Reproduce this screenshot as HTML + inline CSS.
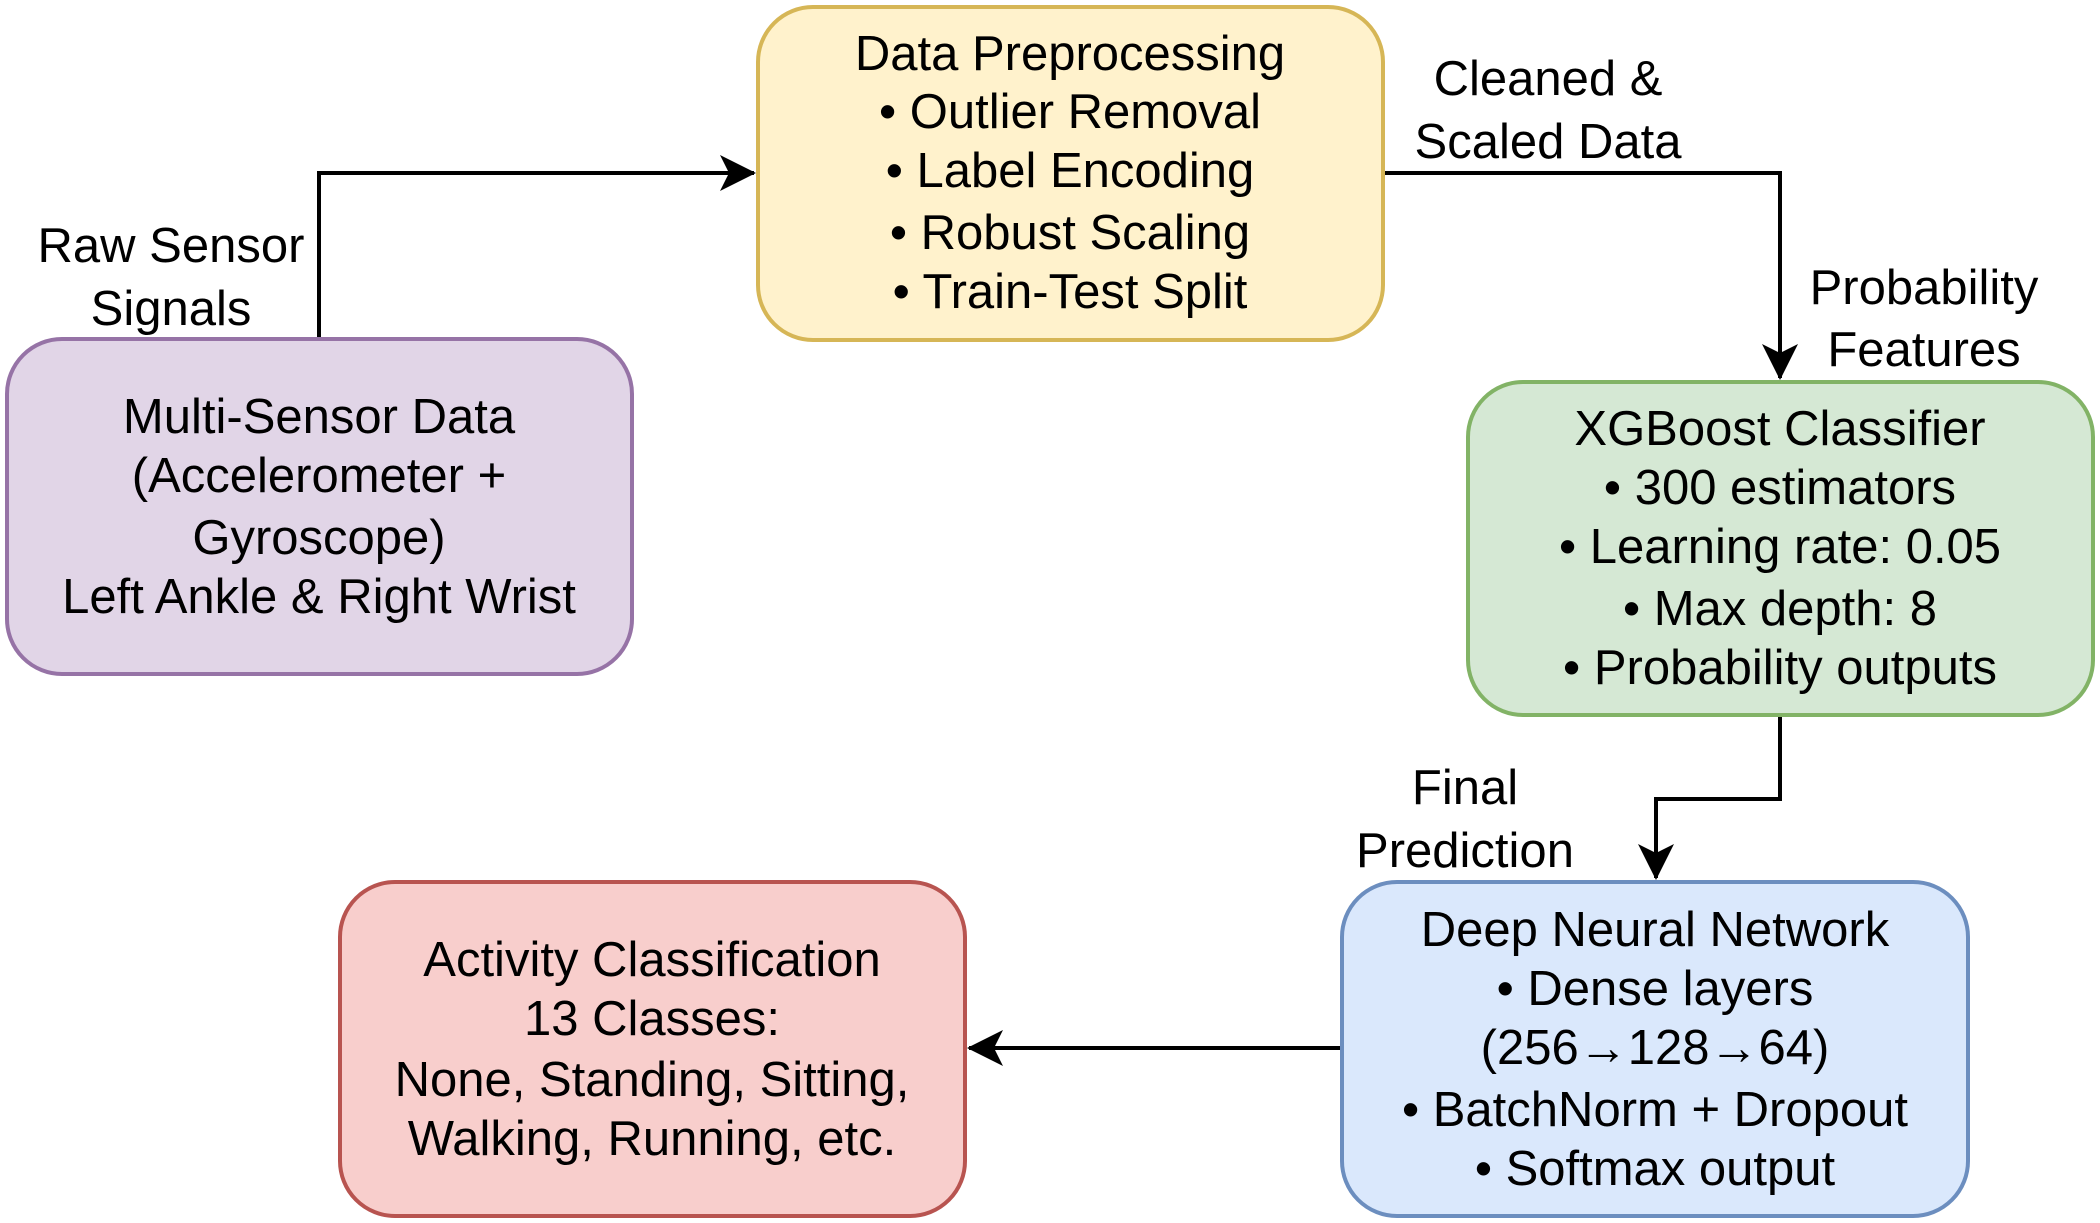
<!DOCTYPE html>
<html><head><meta charset="utf-8"><style>html,body{margin:0;padding:0;background:#fff}svg{display:block}</style></head>
<body>
<svg width="2100" height="1223" viewBox="0 0 2100 1223" xmlns="http://www.w3.org/2000/svg" font-family="Liberation Sans, Arial, sans-serif" font-size="49" fill="#000">
<defs>
<marker id="b" markerWidth="36" markerHeight="36" refX="34" refY="18" orient="auto" markerUnits="userSpaceOnUse"><path d="M0,0 L36,18 L0,36 L9,18 Z" fill="#000"/></marker></defs>
<g stroke="#000" stroke-width="4" fill="none">
<path d="M319,339 V173 H754" marker-end="url(#b)"/>
<path d="M1383,173 H1780 V378" marker-end="url(#b)"/>
<path d="M1780,715 V799 H1656 V878" marker-end="url(#b)"/>
<path d="M1342,1048 H969" marker-end="url(#b)"/>
</g>
<g stroke-width="4">
<rect x="7" y="339" width="625" height="335" rx="55" fill="#e1d5e7" stroke="#9673a6"/>
<rect x="758" y="7" width="625" height="333" rx="55" fill="#fff2cc" stroke="#d6b656"/>
<rect x="1468" y="382" width="625" height="333" rx="55" fill="#d5e8d4" stroke="#82b366"/>
<rect x="1342" y="882" width="626" height="334" rx="55" fill="#dae8fc" stroke="#6c8ebf"/>
<rect x="340" y="882" width="625" height="334" rx="55" fill="#f8cecc" stroke="#b85450"/>
</g>
<g text-anchor="middle">
<text x="1070" y="70">Data Preprocessing</text>
<text x="1070" y="128">• Outlier Removal</text>
<text x="1070" y="187">• Label Encoding</text>
<text x="1070" y="249">• Robust Scaling</text>
<text x="1070" y="308">• Train-Test Split</text>
<text x="319" y="433">Multi-Sensor Data</text>
<text x="319" y="492">(Accelerometer +</text>
<text x="319" y="554">Gyroscope)</text>
<text x="319" y="613">Left Ankle &amp; Right Wrist</text>
<text x="1780" y="445">XGBoost Classifier</text>
<text x="1780" y="504">• 300 estimators</text>
<text x="1780" y="563">• Learning rate: 0.05</text>
<text x="1780" y="625">• Max depth: 8</text>
<text x="1780" y="684">• Probability outputs</text>
<text x="1655" y="946">Deep Neural Network</text>
<text x="1655" y="1005">• Dense layers</text>
<text x="1655" y="1064">(256→128→64)</text>
<text x="1655" y="1126">• BatchNorm + Dropout</text>
<text x="1655" y="1185">• Softmax output</text>
<text x="652" y="976">Activity Classification</text>
<text x="652" y="1035">13 Classes:</text>
<text x="652" y="1096">None, Standing, Sitting,</text>
<text x="652" y="1155">Walking, Running, etc.</text>
<text x="171" y="262">Raw Sensor</text>
<text x="171" y="325">Signals</text>
<text x="1548" y="95">Cleaned &amp;</text>
<text x="1548" y="158">Scaled Data</text>
<text x="1924" y="304">Probability</text>
<text x="1924" y="366">Features</text>
<text x="1465" y="804">Final</text>
<text x="1465" y="867">Prediction</text>
</g>
</svg>
</body></html>
